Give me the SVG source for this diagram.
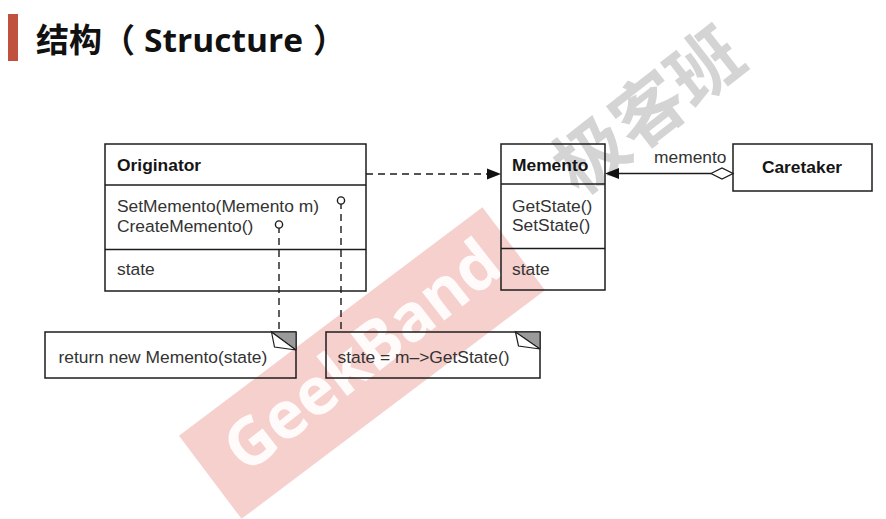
<svg xmlns="http://www.w3.org/2000/svg" width="886" height="519" viewBox="0 0 886 519">
  <defs>
    <style>
      .box { fill: none; stroke: #1c1c1c; stroke-width: 1.5; }
      .div { stroke: #1c1c1c; stroke-width: 1.3; }
      .t { font-family: "Liberation Sans", Arial, sans-serif; font-size: 17.4px; fill: #333; }
      .b { font-family: "Liberation Sans", Arial, sans-serif; font-size: 17.4px; font-weight: bold; fill: #151515; }
      .dash { fill: none; stroke: #1c1c1c; stroke-width: 1.4; stroke-dasharray: 7 5; }
      .solid { fill: none; stroke: #1c1c1c; stroke-width: 1.4; }
      .ear { fill: #9a9a9a; stroke: #1c1c1c; stroke-width: 1; }
      .flap { fill: #ffffff; stroke: #1c1c1c; stroke-width: 1.2; }
    </style>
  </defs>

  <rect x="0" y="0" width="886" height="519" fill="#ffffff"/>

  <!-- watermark -->
  <g id="watermark">
    <rect x="-190" y="-52" width="380" height="104" fill="rgb(220,80,70)" fill-opacity="0.27" transform="translate(362,363) rotate(-37)"/>
    <text transform="translate(360,353) rotate(-38)" text-anchor="middle" dominant-baseline="central" font-family="'Open Sans', 'Liberation Sans', sans-serif" font-weight="bold" font-size="66" fill="#ffffff" fill-opacity="0.9" textLength="330" lengthAdjust="spacingAndGlyphs">GeekBand</text>
    <text transform="translate(645,106) rotate(-38)" text-anchor="middle" dominant-baseline="central" font-family="'Noto Sans CJK SC', sans-serif" font-weight="bold" font-size="72" fill="#888888" fill-opacity="0.36">极客班</text>
  </g>

  <!-- title -->
  <g id="title">
    <rect x="8" y="14" width="10" height="47" fill="#c0513f"/>
    <text y="52" font-family="'Noto Sans CJK SC', sans-serif" font-weight="bold" font-size="33" fill="#111"><tspan x="36">结构（</tspan><tspan x="144" font-family="'Open Sans', 'Noto Sans CJK SC', sans-serif" textLength="159" lengthAdjust="spacingAndGlyphs">Structure</tspan><tspan x="313">）</tspan></text>
  </g>

  <!-- Originator -->
  <g id="originator">
    <rect class="box" x="105" y="144" width="261" height="147"/>
    <line class="div" x1="105" y1="185" x2="366" y2="185"/>
    <line class="div" x1="105" y1="249.5" x2="366" y2="249.5"/>
    <text class="b" x="117" y="171">Originator</text>
    <text class="t" x="117" y="211.5">SetMemento(Memento m)</text>
    <text class="t" x="117" y="232">CreateMemento()</text>
    <text class="t" x="117" y="275">state</text>
  </g>

  <!-- Memento -->
  <g id="memento">
    <rect class="box" x="501" y="144" width="104" height="146"/>
    <line class="div" x1="501" y1="184" x2="605" y2="184"/>
    <line class="div" x1="501" y1="248.5" x2="605" y2="248.5"/>
    <text class="b" x="512" y="171">Memento</text>
    <text class="t" x="512" y="212">GetState()</text>
    <text class="t" x="512" y="231">SetState()</text>
    <text class="t" x="512" y="275">state</text>
  </g>

  <!-- Caretaker -->
  <g id="caretaker">
    <rect class="box" x="733" y="144" width="139" height="47"/>
    <text class="b" x="802" y="173" text-anchor="middle">Caretaker</text>
  </g>

  <!-- Note 1 -->
  <g id="note-create">
    <rect class="box" x="45" y="332" width="251" height="46"/>
    <polygon class="ear" points="271.5,332 296,332 296,350"/>
    <polygon class="flap" points="271.5,332 274.5,347 296,350"/>
    <text class="t" x="58.5" y="363">return new Memento(state)</text>
  </g>

  <!-- Note 2 -->
  <g id="note-set">
    <rect class="box" x="326" y="332" width="214" height="46"/>
    <polygon class="ear" points="515.5,332 540,332 540,349"/>
    <polygon class="flap" points="515.5,332 518.5,346 540,349"/>
    <text class="t" x="337.5" y="363">state = m–&gt;GetState()</text>
  </g>

  <!-- connectors -->
  <g id="connectors">
    <!-- Originator depends on Memento -->
    <line class="dash" x1="366" y1="174" x2="489" y2="174"/>
    <polygon points="501,174 487,168.5 487,179.5" fill="#111"/>
    <!-- Caretaker aggregates Memento -->
    <line class="solid" x1="711" y1="173.5" x2="618" y2="173.5"/>
    <polygon points="605,173.5 619,168 619,179" fill="#111"/>
    <polygon points="711,173.5 722,168 733,173.5 722,179" fill="#ffffff" stroke="#1c1c1c" stroke-width="1.3"/>
    <text class="t" x="654" y="163">memento</text>
    <!-- note anchors -->
    <circle cx="341" cy="200.5" r="3.6" fill="#ffffff" stroke="#1c1c1c" stroke-width="1.4"/>
    <line class="solid" x1="341" y1="204" x2="341" y2="209"/>
    <line class="dash" x1="341" y1="214" x2="341" y2="332"/>
    <circle cx="279" cy="224.5" r="3.6" fill="#ffffff" stroke="#1c1c1c" stroke-width="1.4"/>
    <line class="solid" x1="279" y1="228" x2="279" y2="233"/>
    <line class="dash" x1="279" y1="238" x2="279" y2="332"/>
  </g>
</svg>
